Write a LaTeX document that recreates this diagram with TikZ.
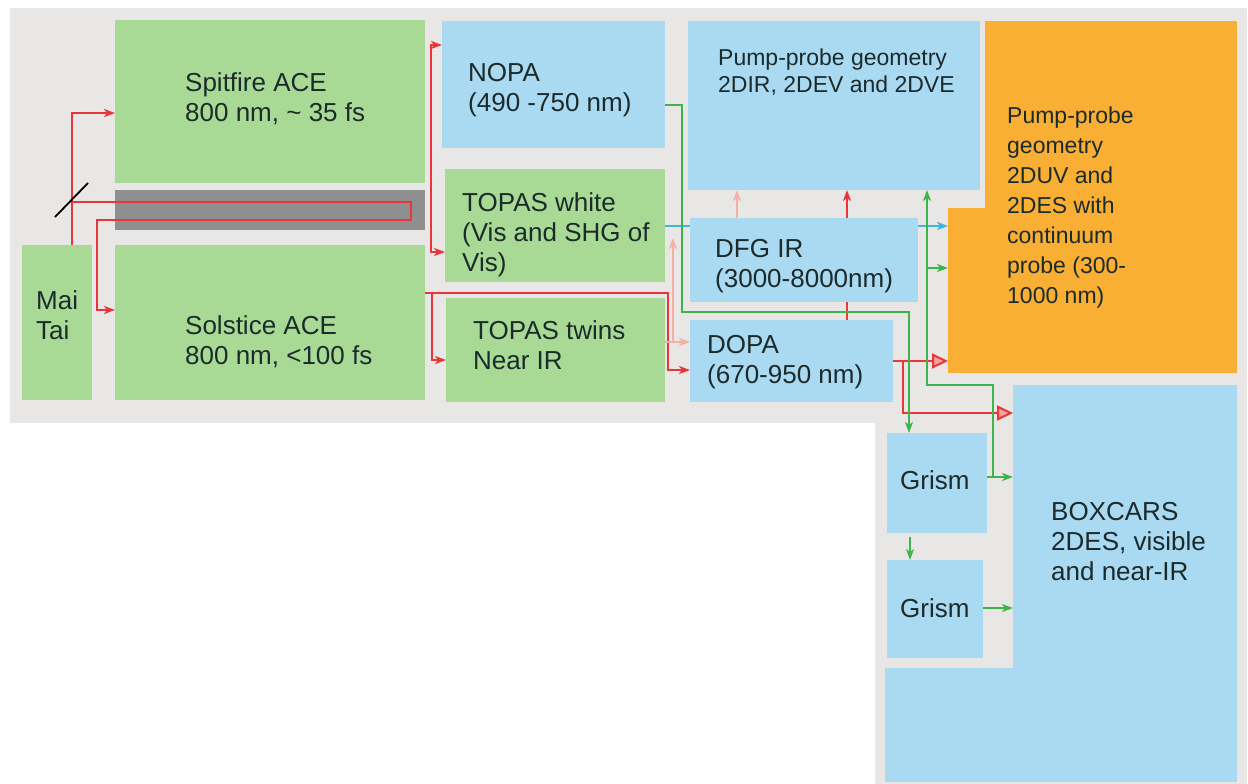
\documentclass[tikz,border=0pt]{standalone}
\usepackage{fontspec}
\setmainfont{Liberation Sans}
\usetikzlibrary{arrows.meta,calc}
\definecolor{bgg}{HTML}{E8E7E5}
\definecolor{gbox}{HTML}{A9DA95}
\definecolor{bbox}{HTML}{AAD9F2}
\definecolor{obox}{HTML}{F9AE34}
\definecolor{darkbar}{HTML}{8F8F8F}
\definecolor{rline}{HTML}{E8363A}
\definecolor{rfill}{HTML}{F3A3A0}
\definecolor{gline}{HTML}{3DB54A}
\definecolor{cline}{HTML}{3FB4E0}
\definecolor{sline}{HTML}{F2B1A2}
\definecolor{tcol}{HTML}{1B2B2B}
\begin{document}
\begin{tikzpicture}[x=1pt,y=-1pt,
  box/.style={rectangle,inner sep=0pt,outer sep=0pt,anchor=north west,draw=none},
  gb/.style={box,fill=gbox},
  bb/.style={box,fill=bbox},
  ob/.style={box,fill=obox},
  txt/.style={anchor=north west,inner sep=0pt,align=left,text=tcol,font=\fontsize{26}{30}\selectfont},
  txts/.style={txt,font=\fontsize{23}{27}\selectfont},
  txto/.style={txt,font=\fontsize{23}{30}\selectfont},
  beam/.style={line width=2pt},
  rd/.style={beam,draw=rline},
  gr/.style={beam,draw=gline},
  cy/.style={beam,draw=cline},
  sal/.style={beam,draw=sline},
  tip/.style={-{Stealth[length=11pt,width=8pt,inset=3pt]}},
  tips/.style={{Stealth[length=11pt,width=8pt,inset=3pt]}-{Stealth[length=11pt,width=8pt,inset=3pt]}},
  bigtip/.style={-{Triangle[length=16pt,width=15pt,fill=rfill,line width=2pt]}},
  bsplit/.style={line width=1.8pt,draw=black}
]
\useasboundingbox (0,0) rectangle (1248,784);
\fill[white] (0,0) rectangle (1248,784);
% grey background (L-shape)
\fill[bgg] (10,8) rectangle (1247,423);
\fill[bgg] (875,423) rectangle (1247,784);

% boxes
\node[gb,minimum width=70pt,minimum height=155pt] (maitai) at (22,245) {};
\node[gb,minimum width=310pt,minimum height=163pt] (spitfire) at (115,20) {};
\node[box,fill=darkbar,minimum width=310pt,minimum height=40pt] (stretcher) at (115,190) {};
\node[gb,minimum width=310pt,minimum height=155pt] (solstice) at (115,245) {};
\node[bb,minimum width=223pt,minimum height=127pt] (nopa) at (442,21) {};
\node[gb,minimum width=220pt,minimum height=113pt] (twhite) at (445,169) {};
\node[gb,minimum width=219pt,minimum height=104pt] (twins) at (446,298) {};
\node[bb,minimum width=292pt,minimum height=169pt] (pp) at (688,21) {};
\node[ob,minimum width=252pt,minimum height=352pt] (orangeA) at (985,21) {};
\node[ob,minimum width=40pt,minimum height=165pt] (orangeB) at (948,208) {};
\node[bb,minimum width=203pt,minimum height=82pt] (dopa) at (690,320) {};
\node[bb,minimum width=100pt,minimum height=100pt] (grism1) at (887,433) {};
\node[bb,minimum width=96pt,minimum height=98pt] (grism2) at (887,560) {};
\node[bb,minimum width=224pt,minimum height=397pt] (boxA) at (1013,385) {};
\node[bb,minimum width=352pt,minimum height=114pt] (boxB) at (885,668) {};

% cyan beam passes behind the DFG box
\draw[cy,tip] (twhite.east |- 0,226) -- (orangeB.west |- 0,226);

\node[bb,minimum width=228pt,minimum height=84pt] (dfg) at (690,218) {};

% texts
\node[txt] (tmaitai) at (36,290) {Mai\\Tai};
\node[txt] (tspitfire) at (185,72) {Spitfire ACE\\800 nm, \textasciitilde{} 35 fs};
\node[txt] (tsolstice) at (185,315) {Solstice ACE\\800 nm, <100 fs};
\node[txt] (tnopa) at (468,63) {NOPA\\(490 -750 nm)};
\node[txt] (ttwhite) at (462,192) {TOPAS white\\(Vis and SHG of\\Vis)};
\node[txt] (ttwins) at (473,320) {TOPAS twins\\Near IR};
\node[txts] (tpp) at (718,49) {Pump-probe geometry\\2DIR, 2DEV and 2DVE};
\node[txto] (torange) at (1007,107) {Pump-probe\\geometry\\2DUV and\\2DES with\\continuum\\probe (300-\\1000 nm)};
\node[txt] (tdfg) at (715,239) {DFG IR\\(3000-8000nm)};
\node[txt] (tdopa) at (707,335) {DOPA\\(670-950 nm)};
\node[txt] (tgrism1) at (900,470) {Grism};
\node[txt] (tgrism2) at (900,598) {Grism};
\node[txt] (tbox) at (1051,502) {BOXCARS\\2DES, visible\\and near-IR};

% red beams
\coordinate (bs) at (72,202);
\coordinate (spo) at (431,150);
\coordinate (so) at (432,293);
\draw[rd,tip] (maitai.north -| bs) |- (spitfire.west |- 0,113);
\draw[rd,tip] (bs) -- (411,202) -- (411,220) -- (97,220) |- (solstice.west |- 0,310);
\draw[bsplit] ($(bs)+(-17,15)$) -- ($(bs)+(16,-19)$);
\draw[rd,tips] (nopa.west |- 0,45) -| (spo) |- (twhite.west |- 0,252);
\draw[rd,tip] (solstice.east |- 0,293) -- (668,293) |- (dopa.west |- 0,370);
\draw[rd,tip] (so) |- (twins.west |- 0,360);
\draw[rd] (dopa.north -| 847,0) -- (dfg.south -| 847,0);
\draw[rd,tip] (dfg.north -| 847,0) -- (pp.south -| 847,0);
\draw[rd,bigtip] (dopa.east |- 0,361) -- (orangeB.west |- 0,361);
\draw[rd,bigtip] (dopa.east |- 0,361) -- (903,361) |- (boxA.west |- 0,413);

% salmon beams
\draw[sal,tip] (twins.east |- 0,342) -- (dopa.west |- 0,342);
\draw[sal,tip] (673,342) -- (673,238);
\draw[sal,tip] (dfg.north -| 737,0) -- (pp.south -| 737,0);

% green beams
\draw[gr,tip] (nopa.east |- 0,105) -- (682,105) -- (682,312) -- (909,312) -- (grism1.north -| 909,0);
\draw[gr,tip] (grism1.east |- 0,477) -- (boxA.west |- 0,477);
\draw[gr,tip] (993,477) |- (927,385) -- (pp.south -| 927,0);
\draw[gr,tip] (927,268) -- (orangeB.west |- 0,268);
\draw[gr,tip] ($(grism1.south -| 910,0)+(0,4)$) -- (grism2.north -| 910,0);
\draw[gr,tip] (grism2.east |- 0,608) -- (boxA.west |- 0,608);
\end{tikzpicture}
\end{document}
